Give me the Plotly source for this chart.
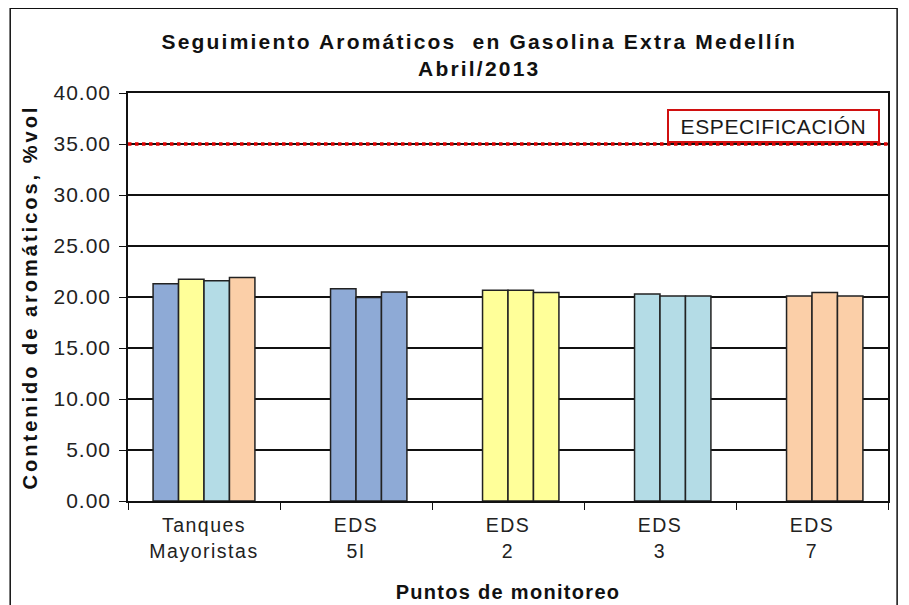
import plotly.graph_objects as go

categories = ["Tanques<br>Mayoristas", "EDS<br>5I", "EDS<br>2", "EDS<br>3", "EDS<br>7"]
slot1 = [21.3, None, None, None, None]
slot2 = [21.75, 20.8, 20.65, 20.3, 20.1]
slot3 = [21.6, 19.95, 20.65, 20.1, 20.45]
slot4 = [21.9, 20.5, 20.45, 20.1, 20.1]
spec_limit = 35.0
y_ticks = [0, 5, 10, 15, 20, 25, 30, 35, 40]

BLUE = "#8EAAD6"
YELLOW = "#FFFF99"
LBLUE = "#B4DCE6"
PEACH = "#FBCFA8"
tanques_colors = [BLUE, YELLOW, LBLUE, PEACH]
cat_colors = [BLUE, YELLOW, LBLUE, PEACH]


def spaced(s, px):
    return '<span style="letter-spacing:%spx">%s</span>' % (px, s)


x_ticktext = ["<br>".join(spaced(p, 1.5) for p in c.split("<br>")) for c in categories]
y_ticktext = [spaced("%.2f" % v, 1) for v in y_ticks]

fig = go.Figure()
for k, vals in enumerate([slot1, slot2, slot3, slot4]):
    colors = [tanques_colors[k]] + cat_colors
    fig.add_trace(go.Bar(
        x=categories, y=vals,
        marker=dict(color=colors, line=dict(color="#222222", width=1.5)),
        showlegend=False,
    ))

fig.add_shape(type="line", xref="paper", yref="y", x0=0, x1=1, y0=spec_limit, y1=spec_limit,
              line=dict(color="#E00000", width=3.5, dash="dot"), layer="above")

fig.add_annotation(text=spaced("ESPECIFICACIÓN", 0.6), xref="paper", yref="y", x=0.989, y=36.75,
                   xanchor="right", yanchor="middle", showarrow=False,
                   width=206, height=27, align="center", valign="middle",
                   font=dict(family="Liberation Sans, Arial", size=21, color="#1A1A1A"),
                   bordercolor="#D01010", borderwidth=2, borderpad=1.5, bgcolor="white")

# outer chart border
fig.add_shape(type="rect", xref="paper", yref="paper",
              x0=-0.155, x1=1.012, y0=-0.3, y1=1.208,
              line=dict(color="#111111", width=1.5), layer="above")

fig.update_layout(
    width=901, height=597,
    paper_bgcolor="white", plot_bgcolor="white",
    margin=dict(l=120, r=21, t=85, b=104, autoexpand=False),
    barmode="group", bargap=0.33, bargroupgap=0,
    font=dict(family="Liberation Sans, Arial", color="#111111"),
    title=dict(text="<b>" + spaced("Seguimiento Aromáticos  en Gasolina Extra Medellín", 2.2)
               + "<br>" + spaced("Abril/2013", 2.2) + "</b>",
               x=0.523, xanchor="center", y=0.931, yanchor="top",
               font=dict(size=21, color="#111111")),
)
fig.update_yaxes(range=[0, 40], tickvals=y_ticks, ticktext=y_ticktext,
                 showgrid=True, gridcolor="#111111", gridwidth=1.5,
                 showline=True, linecolor="#111111", linewidth=1.5, mirror=True,
                 ticks="outside", ticklen=7, tickcolor="#111111", ticklabelstandoff=4,
                 tickfont=dict(size=21, color="#222222"),
                 title=dict(text="<b>" + spaced("Contenido de aromáticos, %vol", 3) + "</b>",
                            font=dict(size=20), standoff=10),
                 zeroline=False)
fig.update_xaxes(showline=True, linecolor="#111111", linewidth=1.5, mirror=True,
                 ticks="outside", ticklen=7, tickcolor="#111111", tickson="boundaries",
                 tickvals=categories, ticktext=x_ticktext, ticklabelstandoff=6,
                 tickfont=dict(size=19.5, color="#222222"),
                 title=dict(text="<b>" + spaced("Puntos de monitoreo", 1.3) + "</b>",
                            font=dict(size=20), standoff=24))

fig.write_html("out.html")
